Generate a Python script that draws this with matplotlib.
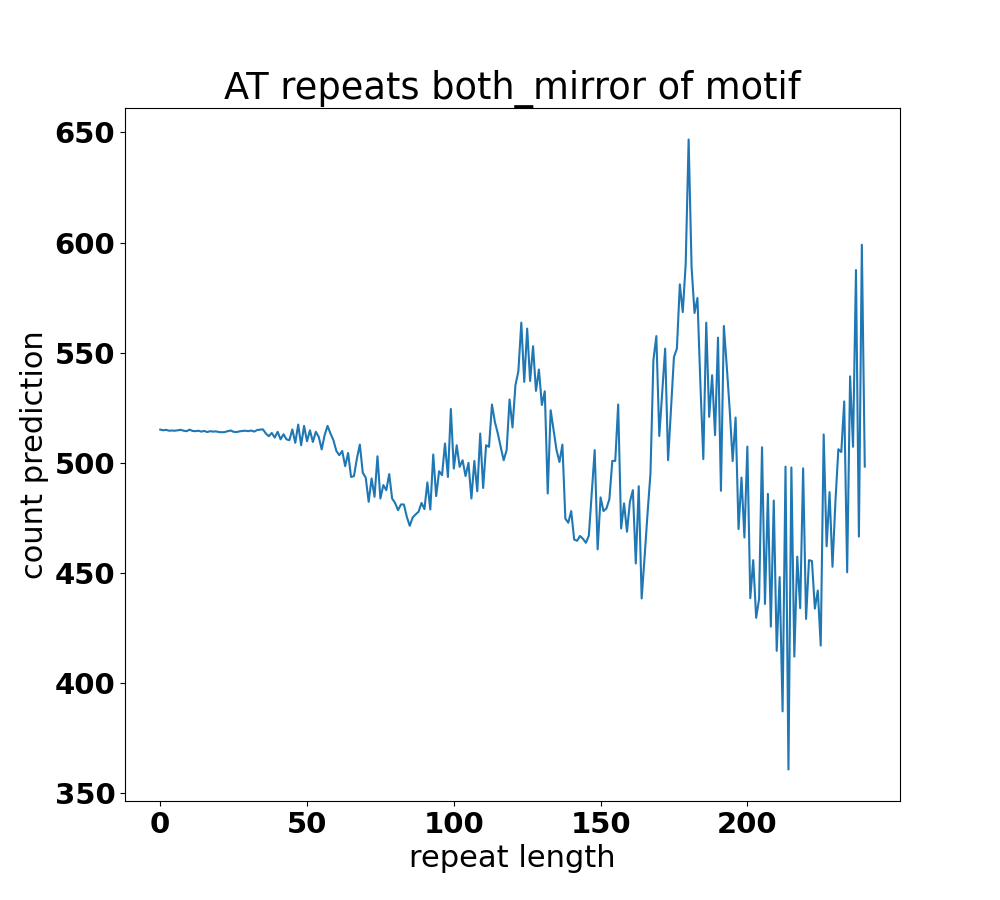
import numpy as np
import matplotlib
matplotlib.use("Agg")
import matplotlib.pyplot as plt

# predicted counts
flat_start = [515.0, 514.7, 514.9, 514.5, 514.6, 514.5, 514.7, 514.9, 514.5, 514.3,
              515.0, 514.4, 514.3, 514.5, 514.1, 514.4, 513.9, 514.3, 514.1, 514.2,
              513.9, 513.8, 513.9, 514.3, 514.6, 514.0, 513.9, 514.2, 514.4, 514.5,
              514.3, 514.6, 514.1, 514.8, 515.0, 515.1]
seg_a = [513.2, 512.0, 513.5, 511.4, 514.0, 510.6, 512.9, 510.6, 510.2, 515.1,
         509.0, 517.3, 507.9, 516.7, 509.7, 514.7, 509.4, 514.0, 511.7, 506.0,
         512.5, 516.7, 513.2, 510.2, 505.3, 503.4, 505.3, 498.4, 504.4, 493.5]
seg_b = [493.9, 501.9, 508.2, 495.4, 493.2, 482.2, 492.8, 484.5, 502.9, 483.7,
         489.8, 487.5]
seg_c = [494.8, 483.7, 481.7, 478.4, 481.0, 481.0, 475.4, 471.3, 475.1, 476.5,
         477.7, 481.7, 478.9, 491.0, 478.7, 503.7, 484.8, 496.1, 494.3, 508.7,
         493.5, 524.4, 497.3, 507.9, 498.1, 501.1, 493.9, 499.9, 483.7, 500.8,
         487.0, 513.2, 488.5, 507.9, 507.2, 526.4, 518.5, 513.2, 507.0, 501.1,
         505.7, 528.7]
seg_d = [516.0, 535.2, 541.5, 563.6, 536.7, 560.9, 537.1, 552.9, 532.6, 542.3,
         526.2, 532.4, 486.0, 523.8, 514.7, 505.7, 500.3, 508.2, 474.6, 472.7,
         478.0, 465.1, 464.5, 466.7, 465.4, 463.6, 466.8, 486.0, 505.7, 460.6,
         484.2, 478.0, 479.2, 483.4, 500.8, 500.8, 526.4, 470.1, 481.5, 468.6]
seg_e = [482.2, 487.5, 454.2, 489.3, 438.3, 457.2, 476.9, 495.1, 546.5, 557.5,
         512.1, 532.1, 551.8, 501.1, 524.6, 548.0, 551.8, 581.0, 568.4, 590.4,
         646.8, 588.9, 568.0, 574.8, 535.9, 501.6, 563.6, 520.8, 539.7, 512.5,
         556.8, 487.2, 562.1, 543.5, 523.8, 500.7, 520.5, 469.8, 493.2, 466.0]
seg_f = [507.3, 438.4, 455.7, 429.5, 438.1, 507.0, 435.8, 485.8, 425.5, 482.8,
         414.5, 448.0, 387.0, 498.2, 360.6, 497.8, 411.9, 457.3, 433.9, 497.4,
         429.0, 455.7, 455.3, 433.7, 441.9, 416.9, 512.8, 462.0, 486.6, 452.7,
         482.2, 506.1, 504.8, 527.8, 450.2, 539.2, 507.2, 587.5, 466.4, 599.0,
         498.2]

counts = np.array(flat_start + seg_a + seg_b + seg_c + seg_d + seg_e + seg_f)
repeat_len = np.arange(len(counts))

title = "AT repeats both_mirror of motif"

fig, ax = plt.subplots(figsize=(10, 9), dpi=100)
ax.plot(repeat_len, counts)

ax.set_title(title, fontsize=26.5)
ax.set_xlabel("repeat length", fontsize=22)
ax.set_ylabel("count prediction", fontsize=22)
ax.set_xticks([0, 50, 100, 150, 200])
ax.set_yticks([350, 400, 450, 500, 550, 600, 650])
for lab in ax.get_xticklabels() + ax.get_yticklabels():
    lab.set_fontsize(21)
    lab.set_fontweight("bold")

plt.savefig("out.png", dpi=100)
